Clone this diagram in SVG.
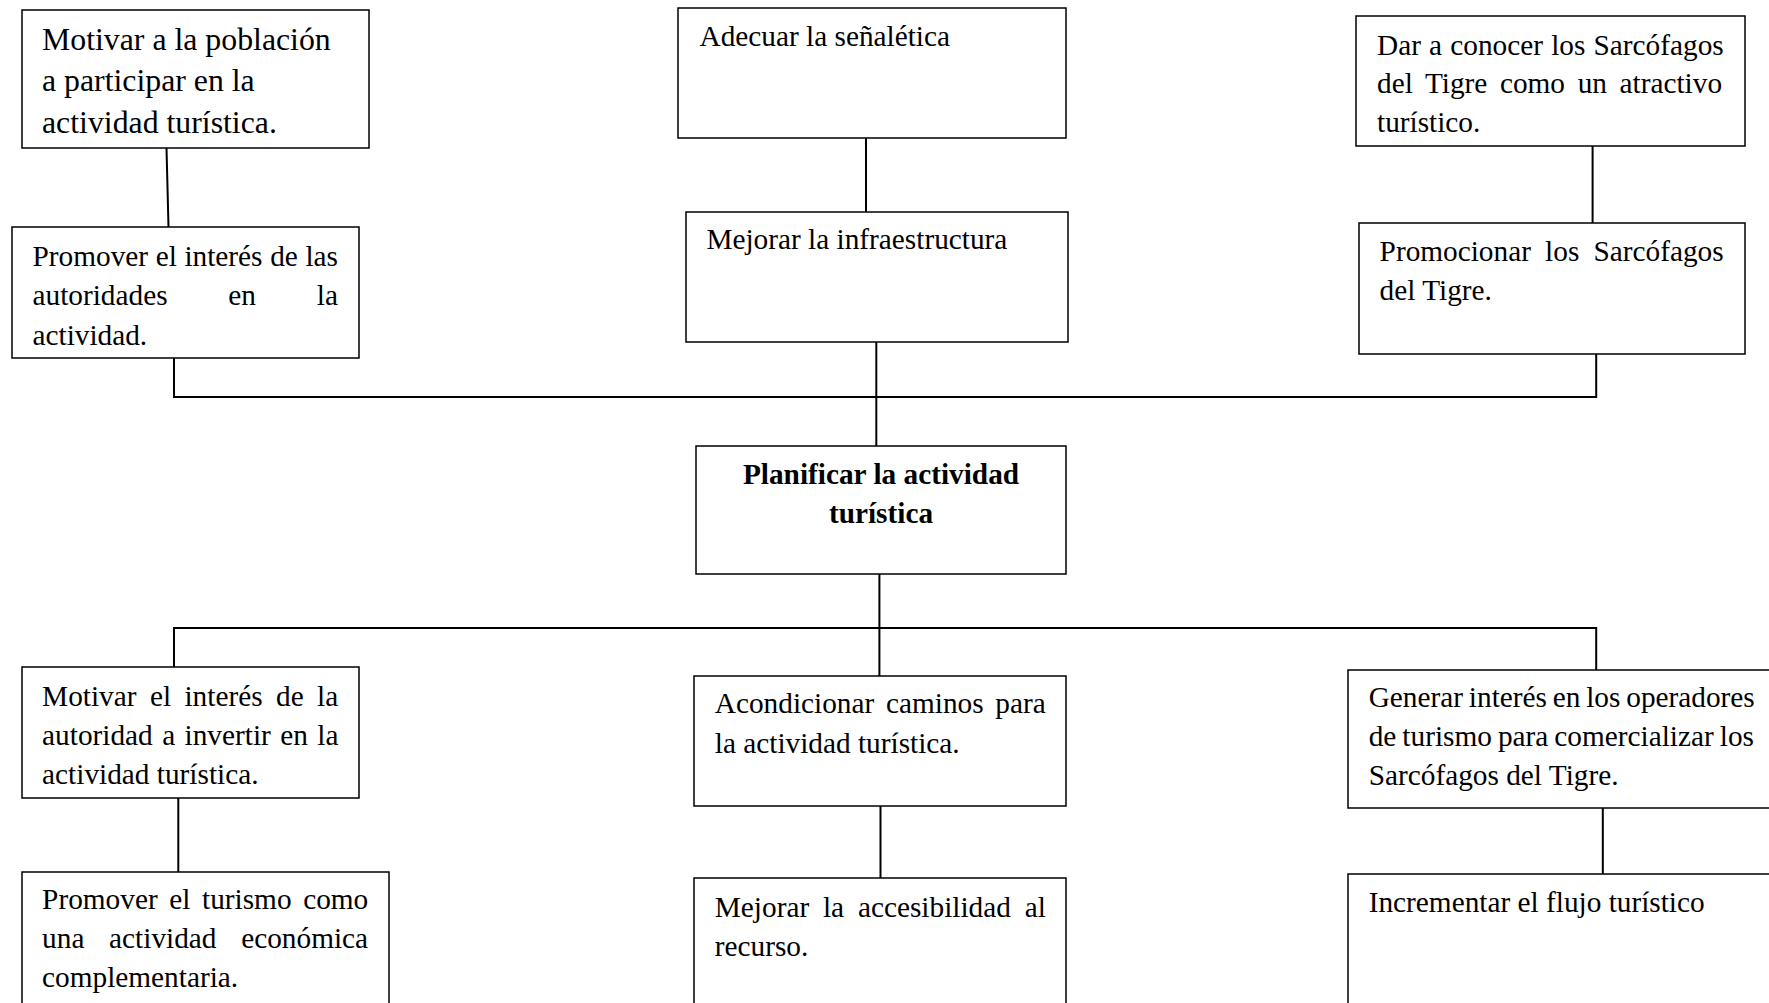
<svg xmlns="http://www.w3.org/2000/svg" width="1769" height="1003" viewBox="0 0 1769 1003">
<style>
.box{fill:#fff;stroke:#000;stroke-width:1.5}
.t{font-family:"Liberation Serif","Times New Roman",serif;font-size:29.3px;fill:#000}
.big{font-size:31.8px}
.b{font-weight:bold;text-anchor:middle}
.c{stroke:#000;stroke-width:2;fill:none}
</style>
<rect width="1769" height="1003" fill="#fff"/>
<g id="connectors">
<line class="c" x1="166.5" y1="148" x2="168.5" y2="227"/>
<line class="c" x1="866" y1="138" x2="866" y2="212"/>
<line class="c" x1="1592.6" y1="146" x2="1592.6" y2="223"/>
<polyline class="c" points="174,358 174,397 1596.2,397 1596.2,354"/>
<line class="c" x1="876.3" y1="342" x2="876.3" y2="446"/>
<line class="c" x1="879.4" y1="574" x2="879.4" y2="676"/>
<polyline class="c" points="174,667 174,628 1596.2,628 1596.2,670"/>
<line class="c" x1="178.3" y1="798" x2="178.3" y2="872"/>
<line class="c" x1="880.5" y1="806" x2="880.5" y2="878"/>
<line class="c" x1="1602.8" y1="808" x2="1602.8" y2="874"/>
</g>
<g id="n1"><rect class="box" x="22" y="10" width="347" height="138"/>
<text class="t big" x="42"><tspan x="42" y="49.5">Motivar a la población</tspan><tspan x="42" y="91">a participar en la</tspan><tspan x="42" y="133">actividad turística.</tspan></text></g>
<g id="n2"><rect class="box" x="12" y="227" width="347" height="131"/>
<text class="t"><tspan x="32.5" y="265.5" word-spacing="0.3">Promover el interés de las</tspan><tspan x="32.5" y="305" word-spacing="53.5">autoridades en la</tspan><tspan x="32.5" y="344.5">actividad.</tspan></text></g>
<g id="n3"><rect class="box" x="678" y="8" width="388" height="130"/>
<text class="t" x="699.5" y="45.5">Adecuar la señalética</text></g>
<g id="n4"><rect class="box" x="686" y="212" width="382" height="130"/>
<text class="t" x="706.4" y="249.3">Mejorar la infraestructura</text></g>
<g id="n5"><rect class="box" x="1356" y="16" width="389" height="130"/>
<text class="t"><tspan x="1377" y="54.5" word-spacing="0.85">Dar a conocer los Sarcófagos</tspan><tspan x="1377" y="93" word-spacing="5.3">del Tigre como un atractivo</tspan><tspan x="1377" y="131.5">turístico.</tspan></text></g>
<g id="n6"><rect class="box" x="1359" y="223" width="386" height="131"/>
<text class="t"><tspan x="1379.6" y="261" word-spacing="6.85">Promocionar los Sarcófagos</tspan><tspan x="1379.6" y="300">del Tigre.</tspan></text></g>
<g id="n7"><rect class="box" x="696" y="446" width="370" height="128"/>
<text class="t b"><tspan x="881" y="483.8">Planificar la actividad</tspan><tspan x="881" y="523">turística</tspan></text></g>
<g id="n8"><rect class="box" x="22" y="667" width="337" height="131"/>
<text class="t"><tspan x="42.1" y="705.5" word-spacing="6.1">Motivar el interés de la</tspan><tspan x="42.1" y="744.5" word-spacing="2.1">autoridad a invertir en la</tspan><tspan x="42.1" y="783.5">actividad turística.</tspan></text></g>
<g id="n9"><rect class="box" x="22" y="872" width="367" height="140"/>
<text class="t"><tspan x="42.1" y="908.5" word-spacing="4.3">Promover el turismo como</tspan><tspan x="42.1" y="947.5" word-spacing="17.4">una actividad económica</tspan><tspan x="42.1" y="986.5">complementaria.</tspan></text></g>
<g id="n10"><rect class="box" x="694" y="676" width="372" height="130"/>
<text class="t"><tspan x="714.8" y="713" word-spacing="4.4">Acondicionar caminos para</tspan><tspan x="714.8" y="752.5">la actividad turística.</tspan></text></g>
<g id="n11"><rect class="box" x="694" y="878" width="372" height="140"/>
<text class="t"><tspan x="714.8" y="916.5" word-spacing="6.5">Mejorar la accesibilidad al</tspan><tspan x="714.8" y="955.5">recurso.</tspan></text></g>
<g id="n12"><rect class="box" x="1348" y="670" width="440" height="138"/>
<text class="t"><tspan x="1368.7" y="707" word-spacing="-1.5">Generar interés en los operadores</tspan><tspan x="1368.7" y="746" word-spacing="-1.3">de turismo para comercializar los</tspan><tspan x="1368.7" y="785">Sarcófagos del Tigre.</tspan></text></g>
<g id="n13"><rect class="box" x="1348" y="874" width="440" height="140"/>
<text class="t" x="1368.7" y="912">Incrementar el flujo turístico</text></g>
</svg>
